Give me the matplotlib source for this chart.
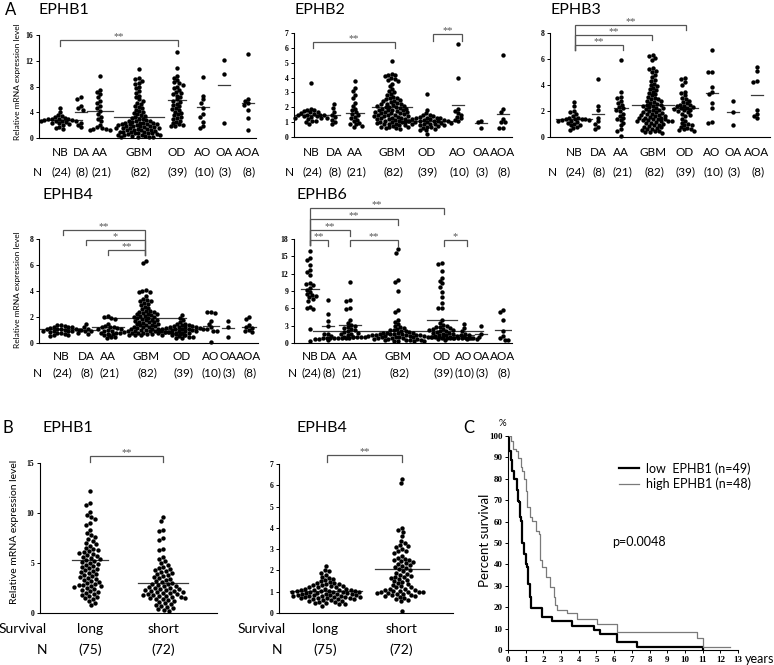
import matplotlib
matplotlib.use('Agg')
import matplotlib.pyplot as plt
import numpy as np

# ---------------- DATA ----------------
groups = ['NB', 'DA', 'AA', 'GBM', 'OD', 'AO', 'OA', 'AOA']
group_n = ['(24)', '(8)', '(21)', '(82)', '(39)', '(10)', '(3)', '(8)']

ephb1 = {
    'NB': [4.7, 4.1, 3.6, 3.4, 3.2, 3.1, 3.0, 3.0, 2.9, 2.9, 2.8, 2.8, 2.7, 2.7, 2.6, 2.6, 2.5, 2.4, 2.3, 2.2, 2.0, 1.7, 1.5, 1.4],
    'DA': [6.3, 6.1, 4.9, 4.6, 4.4, 2.3, 2.0, 1.7],
    'AA': [9.6, 7.5, 7.2, 6.9, 6.4, 5.8, 5.5, 5.0, 4.6, 4.2, 3.7, 3.3, 3.0, 2.7, 2.0, 1.7, 1.5, 1.4, 1.4, 1.3, 1.3],
    'GBM': [10.7, 9.3, 9.1, 8.9, 8.6, 8.4, 8.0, 7.7, 7.3, 7.0, 6.6, 6.3, 6.0, 5.8, 5.5, 5.3, 5.0, 4.8, 4.6, 4.4,
            4.2, 4.0, 3.9, 3.7, 3.5, 3.4, 3.2, 3.1, 3.0, 2.9, 2.8, 2.7, 2.6, 2.6, 2.5, 2.4, 2.4, 2.3, 2.3, 2.2,
            2.2, 2.1, 2.1, 2.0, 2.0, 1.9, 1.9, 1.8, 1.8, 1.7, 1.7, 1.6, 1.6, 1.5, 1.5, 1.4, 1.4, 1.3, 1.3, 1.2,
            1.2, 1.1, 1.0, 1.0, 0.9, 0.9, 0.8, 0.8, 0.7, 0.7, 0.6, 0.6, 0.5, 0.5, 0.4, 0.4, 0.3, 0.3, 0.2, 0.2, 0.1, 0.1],
    'OD': [13.3, 10.9, 9.6, 9.3, 9.0, 8.7, 8.5, 8.3, 8.0, 7.7, 7.5, 7.2, 7.0, 6.8, 6.6, 6.3, 6.0, 5.8, 5.6, 5.3,
           5.1, 4.9, 4.7, 4.5, 4.3, 4.1, 3.9, 3.7, 3.5, 3.3, 3.1, 2.9, 2.7, 2.5, 2.3, 2.1, 2.0, 1.9, 1.8],
    'AO': [9.5, 6.6, 6.0, 5.5, 4.7, 3.7, 3.3, 2.5, 1.9, 1.6],
    'OA': [12.1, 10.0, 2.3],
    'AOA': [13.0, 6.1, 5.8, 5.4, 5.2, 4.3, 3.1, 1.2],
}
ephb1_mean = [2.8, 4.1, 4.2, 3.2, 5.9, 4.8, 8.2, 5.4]

ephb2 = {
    'NB': [3.65, 1.9, 1.85, 1.8, 1.75, 1.7, 1.65, 1.6, 1.55, 1.5, 1.5, 1.45, 1.45, 1.4, 1.4, 1.35, 1.3, 1.3, 1.25, 1.2, 1.1, 1.05, 1.0, 0.9],
    'DA': [2.2, 1.95, 1.7, 1.5, 1.35, 1.15, 1.0, 0.9],
    'AA': [3.8, 3.3, 3.1, 2.8, 2.6, 2.3, 2.1, 1.9, 1.8, 1.65, 1.55, 1.45, 1.35, 1.25, 1.15, 1.05, 0.95, 0.9, 0.85, 0.75, 0.65],
    'GBM': [5.1, 4.25, 4.2, 4.15, 4.1, 4.0, 3.9, 3.85, 3.8, 3.6, 3.4, 3.2, 3.1, 3.0, 2.9, 2.8, 2.7, 2.65, 2.6, 2.55,
            2.5, 2.45, 2.4, 2.35, 2.3, 2.25, 2.2, 2.2, 2.15, 2.1, 2.1, 2.05, 2.0, 2.0, 1.95, 1.9, 1.9, 1.85, 1.8, 1.8,
            1.75, 1.7, 1.7, 1.65, 1.6, 1.6, 1.55, 1.5, 1.5, 1.45, 1.4, 1.4, 1.35, 1.3, 1.3, 1.25, 1.2, 1.2, 1.15, 1.1,
            1.1, 1.05, 1.0, 1.0, 0.95, 0.9, 0.9, 0.85, 0.8, 0.8, 0.75, 0.7, 0.7, 0.65, 0.6, 0.6, 0.55, 1.0, 1.2, 1.4, 1.6, 1.8],
    'OD': [2.9, 1.85, 1.6, 1.5, 1.45, 1.4, 1.35, 1.3, 1.3, 1.25, 1.25, 1.2, 1.2, 1.15, 1.15, 1.1, 1.1, 1.1, 1.05, 1.05,
           1.0, 1.0, 1.0, 0.95, 0.95, 0.9, 0.9, 0.85, 0.85, 0.8, 0.8, 0.75, 0.7, 0.65, 0.6, 0.55, 0.5, 0.45, 0.2],
    'AO': [6.25, 4.0, 1.9, 1.75, 1.6, 1.5, 1.35, 1.25, 1.15, 1.05],
    'OA': [1.1, 1.0, 0.6],
    'AOA': [5.5, 1.9, 1.7, 1.2, 1.0, 1.0, 0.6, 0.6],
}
ephb2_mean = [1.5, 1.45, 1.6, 2.0, 1.1, 2.15, 0.95, 1.55]

ephb3 = {
    'NB': [2.7, 2.4, 2.0, 1.9, 1.75, 1.6, 1.5, 1.45, 1.4, 1.4, 1.35, 1.35, 1.3, 1.3, 1.25, 1.2, 1.15, 1.1, 1.0, 0.95, 0.9, 0.8, 0.7, 0.55],
    'DA': [4.5, 2.4, 2.1, 1.5, 1.2, 1.0, 0.8, 0.65],
    'AA': [5.95, 3.45, 3.1, 3.0, 2.8, 2.6, 2.5, 2.3, 2.2, 2.1, 2.0, 1.8, 1.6, 1.5, 1.4, 1.3, 1.1, 0.9, 0.6, 0.5, 0.1],
    'GBM': [6.3, 6.2, 6.05, 5.9, 5.3, 5.2, 5.1, 5.0, 4.8, 4.6, 4.4, 4.3, 4.1, 4.0, 3.9, 3.8, 3.7, 3.6, 3.5, 3.4,
            3.3, 3.2, 3.1, 3.0, 2.95, 2.9, 2.8, 2.75, 2.7, 2.6, 2.55, 2.5, 2.45, 2.4, 2.35, 2.3, 2.25, 2.2, 2.15, 2.1,
            2.05, 2.0, 1.95, 1.9, 1.85, 1.8, 1.75, 1.7, 1.65, 1.6, 1.55, 1.5, 1.45, 1.4, 1.35, 1.3, 1.25, 1.2, 1.2, 1.15,
            1.1, 1.05, 1.0, 0.95, 0.9, 0.85, 0.8, 0.75, 0.7, 0.65, 0.6, 0.55, 0.5, 0.45, 0.4, 0.35, 0.3, 1.25, 1.3, 1.35, 1.5, 1.7],
    'OD': [4.55, 4.45, 4.2, 4.0, 3.5, 3.4, 3.2, 3.0, 2.9, 2.8, 2.7, 2.6, 2.5, 2.45, 2.4, 2.35, 2.3, 2.25, 2.2, 2.15,
           2.1, 2.05, 2.0, 1.9, 1.8, 1.7, 1.6, 1.4, 1.2, 1.1, 1.0, 0.95, 0.9, 0.8, 0.7, 0.65, 0.6, 0.55, 0.5],
    'AO': [6.7, 5.0, 5.0, 3.85, 3.5, 3.3, 2.6, 2.2, 1.15, 1.1],
    'OA': [2.8, 1.95, 0.95],
    'AOA': [5.4, 5.1, 4.3, 4.2, 2.1, 1.8, 1.6, 1.45],
}
ephb3_mean = [1.35, 1.8, 2.2, 2.5, 2.2, 3.4, 1.9, 3.2]

ephb4 = {
    'NB': [1.4, 1.35, 1.3, 1.25, 1.2, 1.2, 1.15, 1.1, 1.1, 1.05, 1.05, 1.0, 1.0, 0.95, 0.95, 0.9, 0.9, 0.85, 0.8, 0.75, 0.7, 0.65, 0.6, 0.55],
    'DA': [1.45, 1.2, 1.1, 1.0, 0.95, 0.9, 0.8, 0.7],
    'AA': [2.1, 2.0, 1.95, 1.85, 1.5, 1.3, 1.25, 1.2, 1.2, 1.15, 1.1, 1.1, 1.0, 0.95, 0.9, 0.8, 0.7, 0.6, 0.5, 0.45, 0.4],
    'GBM': [6.3, 6.15, 4.05, 4.0, 3.95, 3.9, 3.6, 3.4, 3.3, 3.25, 3.2, 3.1, 3.0, 2.9, 2.8, 2.7, 2.6, 2.5, 2.45, 2.4,
            2.35, 2.3, 2.25, 2.2, 2.15, 2.1, 2.05, 2.0, 1.95, 1.9, 1.85, 1.8, 1.75, 1.7, 1.65, 1.6, 1.55, 1.5, 1.45, 1.4,
            1.35, 1.3, 1.25, 1.2, 1.2, 1.15, 1.1, 1.1, 1.05, 1.0, 1.0, 0.95, 0.95, 0.9, 0.9, 0.9, 0.85, 0.85, 0.85, 0.8,
            0.8, 0.8, 0.8, 0.75, 0.75, 0.75, 0.75, 0.7, 0.7, 0.7, 0.7, 0.65, 0.65, 0.65, 0.6, 0.6, 0.6, 1.4, 1.6, 1.8, 2.0, 2.2],
    'OD': [2.15, 1.9, 1.75, 1.6, 1.5, 1.45, 1.4, 1.35, 1.3, 1.3, 1.25, 1.25, 1.2, 1.2, 1.15, 1.15, 1.1, 1.1, 1.1, 1.05,
           1.05, 1.0, 1.0, 0.95, 0.95, 0.9, 0.9, 0.85, 0.85, 0.8, 0.75, 0.7, 0.65, 0.6, 0.55, 0.5, 0.45, 0.4, 0.35],
    'AO': [2.35, 2.35, 2.3, 1.7, 1.45, 1.2, 1.1, 0.95, 0.9, 0.1],
    'OA': [1.7, 1.25, 0.5],
    'AOA': [2.0, 1.85, 1.35, 1.2, 1.15, 1.0, 0.9, 0.85],
}
ephb4_mean = [1.05, 1.0, 1.2, 1.9, 1.1, 1.3, 1.15, 1.25]

ephb6 = {
    'NB': [16.0, 14.7, 14.4, 13.5, 12.6, 12.3, 11.7, 10.4, 10.2, 10.0, 9.6, 9.2, 8.8, 8.5, 8.3, 8.1, 7.9, 7.6, 7.3, 6.3, 6.0, 5.9, 2.5, 0.4],
    'DA': [7.4, 5.0, 3.8, 3.0, 1.6, 1.5, 1.2, 0.6],
    'AA': [10.6, 7.5, 7.3, 6.1, 5.9, 4.0, 3.5, 3.2, 3.0, 2.8, 2.6, 2.4, 2.2, 2.0, 1.9, 1.8, 1.6, 1.5, 1.3, 1.1, 1.0],
    'GBM': [16.2, 15.6, 10.9, 10.5, 9.0, 5.7, 5.4, 4.0, 3.7, 3.3, 3.0, 2.8, 2.6, 2.4, 2.3, 2.2, 2.1, 2.0, 1.9, 1.8,
            1.8, 1.7, 1.7, 1.6, 1.6, 1.5, 1.5, 1.4, 1.4, 1.3, 1.3, 1.3, 1.2, 1.2, 1.2, 1.2, 1.1, 1.1, 1.1, 1.1,
            1.1, 1.0, 1.0, 1.0, 1.0, 1.0, 1.0, 1.0, 1.0, 0.95, 0.95, 0.95, 0.95, 0.95, 0.9, 0.9, 0.9, 0.9, 0.9, 0.9,
            0.85, 0.85, 0.85, 0.85, 0.8, 0.8, 0.8, 0.8, 0.75, 0.75, 0.75, 0.7, 0.7, 0.7, 0.6, 0.6, 0.5, 0.5, 0.4, 0.4, 0.3, 0.3],
    'OD': [13.8, 13.6, 12.5, 11.3, 10.8, 10.3, 9.7, 8.8, 8.0, 7.0, 6.1, 6.0, 4.0, 3.5, 3.2, 3.0, 2.8, 2.7, 2.6, 2.5,
           2.4, 2.3, 2.2, 2.1, 2.0, 1.9, 1.8, 1.7, 1.6, 1.5, 1.4, 1.3, 1.2, 1.1, 1.0, 0.9, 0.8, 0.7, 0.6],
    'AO': [3.3, 2.6, 2.0, 1.6, 1.4, 1.3, 1.2, 1.0, 0.8, 0.7],
    'OA': [3.0, 1.6, 1.0],
    'AOA': [5.7, 5.4, 3.9, 2.0, 1.2, 0.8, 0.6, 0.5],
}
ephb6_mean = [9.4, 3.0, 3.2, 2.1, 3.9, 1.4, 1.6, 2.3]

surv_groups = ['long', 'short']
surv_n = ['(75)', '(72)']
b_ephb1 = {
    'long': [12.2, 11.0, 10.8, 10.1, 9.8, 9.6, 9.4, 9.0, 8.8, 8.3, 8.0, 7.8, 7.6, 7.4, 7.2, 7.0, 6.9, 6.7, 6.5, 6.4,
             6.3, 6.2, 6.1, 6.0, 5.9, 5.8, 5.7, 5.6, 5.5, 5.4, 5.3, 5.2, 5.1, 5.0, 4.9, 4.8, 4.7, 4.6, 4.5, 4.4,
             4.3, 4.2, 4.1, 4.0, 3.9, 3.8, 3.7, 3.6, 3.5, 3.4, 3.3, 3.2, 3.1, 3.0, 2.9, 2.8, 2.8, 2.7, 2.7, 2.6,
             2.5, 2.4, 2.3, 2.2, 2.1, 2.0, 1.9, 1.8, 1.7, 1.6, 1.5, 1.4, 1.2, 1.0, 0.8],
    'short': [9.6, 9.2, 8.3, 8.2, 7.5, 7.3, 6.4, 6.3, 5.6, 5.4, 5.2, 5.0, 4.8, 4.6, 4.5, 4.4, 4.3, 4.2, 4.0, 3.9,
              3.8, 3.6, 3.5, 3.4, 3.3, 3.2, 3.1, 3.0, 2.9, 2.9, 2.8, 2.7, 2.7, 2.6, 2.5, 2.5, 2.4, 2.4, 2.3, 2.3,
              2.2, 2.2, 2.1, 2.1, 2.0, 2.0, 1.9, 1.9, 1.8, 1.8, 1.7, 1.7, 1.6, 1.6, 1.5, 1.5, 1.4, 1.4, 1.3, 1.2,
              1.1, 1.0, 0.9, 0.8, 0.7, 0.6, 0.5, 0.4, 0.3, 0.2, 3.7, 4.1],
}
b_ephb1_mean = [5.3, 3.0]
b_ephb4 = {
    'long': [2.2, 2.0, 1.95, 1.9, 1.8, 1.7, 1.65, 1.6, 1.55, 1.5, 1.45, 1.4, 1.4, 1.35, 1.35, 1.3, 1.3, 1.25, 1.25, 1.2,
             1.2, 1.2, 1.15, 1.15, 1.15, 1.1, 1.1, 1.1, 1.1, 1.05, 1.05, 1.05, 1.0, 1.0, 1.0, 1.0, 0.95, 0.95, 0.95, 0.9,
             0.9, 0.9, 0.9, 0.85, 0.85, 0.85, 0.8, 0.8, 0.8, 0.8, 0.75, 0.75, 0.75, 0.7, 0.7, 0.7, 0.7, 0.65, 0.65, 0.6,
             0.6, 0.55, 0.55, 0.5, 0.5, 0.45, 0.45, 0.4, 0.4, 0.35, 1.05, 1.0, 0.85, 0.75, 0.65],
    'short': [6.3, 6.1, 4.0, 3.9, 3.8, 3.6, 3.4, 3.3, 3.2, 3.15, 3.1, 3.0, 2.9, 2.8, 2.7, 2.6, 2.55, 2.5, 2.45, 2.4,
              2.35, 2.3, 2.25, 2.2, 2.15, 2.1, 2.05, 2.0, 1.95, 1.9, 1.85, 1.8, 1.75, 1.7, 1.65, 1.6, 1.55, 1.5, 1.45, 1.4,
              1.35, 1.3, 1.25, 1.2, 1.2, 1.15, 1.15, 1.1, 1.1, 1.05, 1.05, 1.0, 1.0, 1.0, 0.95, 0.95, 0.9, 0.9, 0.85, 0.85,
              0.8, 0.8, 0.75, 0.7, 0.65, 0.6, 0.55, 0.1, 2.9, 2.5, 1.7, 1.0],
}
b_ephb4_mean = [1.05, 2.05]

# Kaplan-Meier curves (years, percent survival)
low_t = [0, 0.06, 0.15, 0.24, 0.34, 0.49, 0.56, 0.62, 0.68, 0.75, 0.81, 0.9, 0.99, 1.09, 1.14, 1.24, 1.31,
         1.93, 2.5, 3.62, 4.84, 5.18, 6.15, 7.28, 11.03]
low_s = [100, 93, 88.7, 83.7, 79.8, 75, 69.8, 69, 62, 60.5, 50, 45, 40.3, 38.8, 31, 24.8, 19.7,
         15.5, 13.5, 11.3, 9.3, 7.3, 3.9, 1.2, 0]
high_t = [0, 0.15, 0.3, 0.43, 0.56, 0.71, 0.81, 0.9, 0.99, 1.09, 1.24, 1.37, 1.56, 1.74, 1.8, 1.93, 2.12, 2.4,
          2.59, 2.68, 2.78, 3.34, 3.9, 5.03, 6.15, 10.66, 11.03, 12.53]
high_s = [100, 97.7, 93.8, 93, 89.9, 85.3, 83.7, 79.8, 74.4, 66.7, 62, 60.5, 55.8, 54.3, 41.9, 38.8, 34.1, 29.5,
          24.8, 20.9, 18.6, 17.5, 14.7, 12.1, 8.2, 5.4, 1.6, 1.6]

# ---------------- FIGURE ----------------
W, H = 774, 665
fig = plt.figure(figsize=(W / 100, H / 100), dpi=100)
SANS = ['Lato', 'DejaVu Sans']
SERIF = ['Liberation Serif', 'DejaVu Serif']
BR = '#555555'


def fx(x):
    return x / W


def fy(y):
    return 1 - y / H


def ftext(x, y, s, size, ha='center', va='center', family=SANS, **kw):
    fig.text(fx(x), fy(y), s, fontsize=size, ha=ha, va=va, family=family, **kw)


class Panel:
    def __init__(self, left, right, top, bottom, ymax, yticks):
        self.left, self.right, self.top, self.bottom, self.ymax = left, right, top, bottom, ymax
        ax = fig.add_axes([fx(left), fy(bottom), (right - left) / W, (bottom - top) / H])
        ax.set_xlim(left, right)
        ax.set_ylim(0, ymax)
        for s in ['top', 'right']:
            ax.spines[s].set_visible(False)
        for s in ['left', 'bottom']:
            ax.spines[s].set_linewidth(0.8)
        ax.set_xticks([])
        ax.set_yticks(yticks)
        ax.set_yticklabels([str(t) for t in yticks], family=SERIF, fontweight='bold', fontsize=5.5)
        ax.tick_params(axis='y', length=2.5, width=0.7, pad=1.5)
        ax.patch.set_alpha(0)
        self.ax = ax
        self.scale = (bottom - top) / ymax

    def val(self, ypix):
        return self.ymax * (self.bottom - ypix) / (self.bottom - self.top)

    def bracket(self, x1, x2, y, text, dl=5, dr=5):
        self.ax.plot([x1, x1, x2, x2], [self.val(y + dl), self.val(y), self.val(y), self.val(y + dr)],
                     color=BR, lw=0.9, clip_on=False, solid_joinstyle='miter')
        self.ax.text((x1 + x2) / 2, self.val(y - 0.5), text, ha='center', va='baseline',
                     fontsize=7.5, color=BR, family=SERIF, clip_on=False)


def swarm_offsets(ypx, d):
    ypx = np.asarray(ypx, dtype=float)
    order = np.argsort(-ypx, kind='stable')
    placed = []
    offs = np.zeros(len(ypx))
    for i in order:
        y = ypx[i]
        near = [(px, py) for px, py in placed if abs(py - y) < d]
        cands = [0.0]
        for px, py in near:
            dx = np.sqrt(d * d - (py - y) ** 2)
            cands += [px + dx, px - dx]
        cands.sort(key=lambda c: (abs(c), c))
        for c in cands:
            if all((c - px) ** 2 + (y - py) ** 2 >= d * d - 1e-6 for px, py in near):
                offs[i] = c
                placed.append((c, y))
                break
    return offs


def swarm(panel, center, vals, mean, d=3.8):
    vals = np.asarray(vals, dtype=float)
    offs = swarm_offsets(vals * panel.scale, d)
    panel.ax.scatter(center + offs, vals, s=10, c='black', linewidths=0, zorder=3, clip_on=False)
    half = max(np.abs(offs).max() + 2.5, 6)
    panel.ax.plot([center - half, center + half], [mean, mean], color='#3a3a3a', lw=0.9, zorder=2)


def ylabel(x, y, s, size):
    ftext(x, y, s, size, rotation=90)


# ---------- Panel A ----------
A_specs = [
    (ephb1, ephb1_mean, (39, 256, 35, 138), 16, [0, 4, 8, 12, 16], [60, 81, 100, 139, 177, 203, 224, 248],
     ('EPHB1', 39, 10), 37, (152, 172)),
    (ephb2, ephb2_mean, (294, 512, 33, 137), 7, [0, 1, 2, 3, 4, 5, 6, 7], [311, 334, 355, 392, 427, 458, 481, 503],
     ('EPHB2', 295, 10), 289, (152, 172)),
    (ephb3, ephb3_mean, (550, 770, 33, 137), 8, [0, 2, 4, 6, 8], [574, 598, 621, 653, 685, 712, 733, 757],
     ('EPHB3', 550, 10), 552, (152, 172)),
    (ephb4, ephb4_mean, (39, 258, 239, 343), 8, [0, 2, 4, 6, 8], [61, 86, 108, 146, 182, 211, 228, 249],
     ('EPHB4', 42, 195), 37, (357, 373)),
    (ephb6, ephb6_mean, (294, 512, 239, 343), 18, [0, 3, 6, 9, 12, 15, 18], [310, 328, 350, 398, 442, 464, 481, 503],
     ('EPHB6', 297, 195), 292, (357, 373)),
]
panelsA = []
for data, means, (l, r, t, b), ymax, yt, centers, (title, tx, ty), nx, (ly1, ly2) in A_specs:
    p = Panel(l, r, t, b, ymax, yt)
    for g, c, m in zip(groups, centers, means):
        swarm(p, c, data[g], m)
    for g, n, c in zip(groups, group_n, centers):
        ftext(c, ly1, g, 8.5)
        ftext(c + 1, ly2, n, 8.5)
    ftext(nx, ly2, 'N', 8.5)
    ftext(tx, ty, title, 11.5, ha='left')
    panelsA.append(p)

p1, p2, p3, p4, p5 = panelsA
p1.bracket(60, 178, 40, '**', 6, 6)
p2.bracket(313, 395, 42, '**', 6, 6)
p2.bracket(433, 462, 34, '**', 7, 7)
p3.bracket(575, 623, 45, '**', 5, 5)
p3.bracket(575, 652, 35, '**', 15, 5)
p3.bracket(575, 686, 25, '**', 25, 5)
p4.bracket(63, 145, 230, '**', 5, 25)
p4.bracket(86, 145, 240, '*', 5, 15)
p4.bracket(108, 145, 250, '**', 5, 5)
p5.bracket(310, 444, 208, '**', 37, 6)
p5.bracket(310, 398, 219, '**', 26, 6)
p5.bracket(310, 350, 230, '**', 15, 6)
p5.bracket(310, 328, 240, '**', 5, 6)
p5.bracket(350, 398, 240, '**', 6, 6)
p5.bracket(444, 467, 240, '*', 6, 6)

ftext(5, 10, 'A', 12, ha='left')
ylabel(18, 82, 'Relative mRNA expression level', 6)
ylabel(18, 290, 'Relative mRNA expression level', 6)

# ---------- Panel B ----------
pb1 = Panel(40, 217, 463, 613, 15, [0, 5, 10, 15])
for g, c, m in zip(surv_groups, [90, 163], b_ephb1_mean):
    swarm(pb1, c, b_ephb1[g], m, d=4.6)
pb1.bracket(90, 163, 456, '**', 6, 6)
pb2 = Panel(279, 453, 464, 613, 7, [0, 1, 2, 3, 4, 5, 6, 7])
for g, c, m in zip(surv_groups, [326, 402], b_ephb4_mean):
    swarm(pb2, c, b_ephb4[g], m, d=4.4)
pb2.bracket(327, 402, 455, '**', 7, 7)
for cs, sx, nx in [([90, 163], 23, 42), ([325, 401], 262, 277)]:
    for g, n, c in zip(surv_groups, surv_n, cs):
        ftext(c, 629, g, 10)
        ftext(c, 650, n, 10)
    ftext(sx, 629, 'Survival', 10)
    ftext(nx, 650, 'N', 10)
ftext(3, 428, 'B', 12, ha='left')
ftext(43, 428, 'EPHB1', 11.5, ha='left')
ftext(322, 428, 'EPHB4', 11.5)
ylabel(15, 532, 'Relative mRNA expression level', 7.5)

# ---------- Panel C ----------
axc = fig.add_axes([fx(508), fy(650), (738 - 508) / W, (650 - 436) / H])
axc.step(low_t, low_s, where='post', color='black', lw=1.6, label='low  EPHB1 (n=49)')
axc.step(high_t, high_s, where='post', color='#7a7a7a', lw=0.9, label='high EPHB1 (n=48)')
axc.set_xlim(0, 13)
axc.set_ylim(0, 100)
for s in ['top', 'right']:
    axc.spines[s].set_visible(False)
for s in ['left', 'bottom']:
    axc.spines[s].set_linewidth(0.8)
axc.set_xticks(range(0, 14))
axc.set_xticklabels([str(i) for i in range(14)], family=SERIF, fontweight='bold', fontsize=6.5)
axc.set_yticks(range(0, 101, 10))
axc.set_yticklabels([str(i) for i in range(0, 101, 10)], family=SERIF, fontweight='bold', fontsize=6.5)
axc.tick_params(length=2.5, width=0.7, pad=1.5)
axc.patch.set_alpha(0)
axc.legend(loc='upper left', bbox_to_anchor=(fx(619), fy(462)), bbox_transform=fig.transFigure,
           frameon=False, handlelength=1.6, handletextpad=0.6, labelspacing=0.25,
           borderpad=0, borderaxespad=0, prop={'family': SANS, 'size': 9})
ftext(612, 542, 'p=0.0048', 9, ha='left')
ftext(745, 659, 'years', 9, ha='left')
ftext(502, 424, '%', 7)
ftext(463, 428, 'C', 12, ha='left')
ylabel(485, 540, 'Percent survival', 9.5)

fig.savefig('out.png', dpi=100)
